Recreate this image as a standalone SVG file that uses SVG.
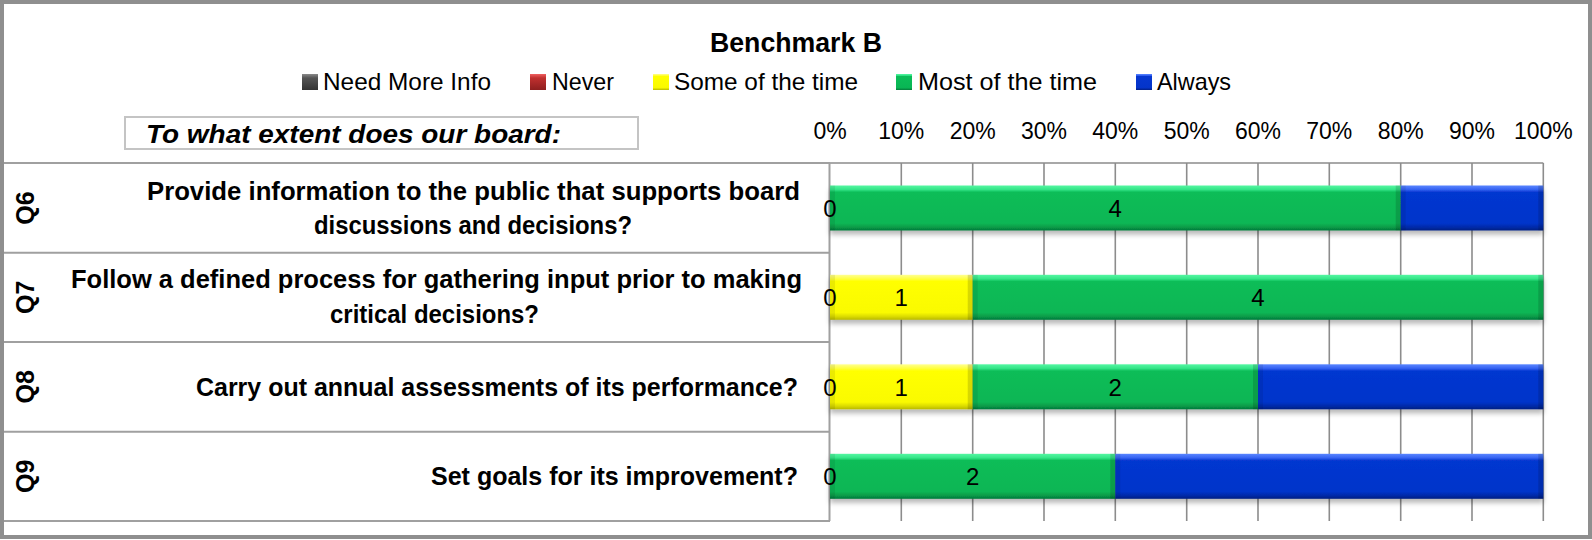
<svg xmlns="http://www.w3.org/2000/svg" width="1592" height="540" viewBox="0 0 1592 540">
<style>
.t{font-family:"Liberation Sans",Arial,sans-serif;fill:#000}
.b{font-weight:bold}
.title{font-size:27px;font-weight:bold}
.leg{font-size:24px}
.pct{font-size:23px;text-anchor:middle}
.q{font-size:25px;font-weight:bold}
.ql{font-size:25px;font-weight:bold;text-anchor:middle}
.val{font-size:24px;text-anchor:middle}
.tbl{stroke:#a0a0a0;stroke-width:2;fill:none}
.grid{stroke:#8c8c8c;stroke-width:1.6;fill:none}
.edgeL{fill:#000;opacity:0.08}
.edgeR{fill:#000;opacity:0.14}
</style>
<defs>
<linearGradient id="gGreen" x1="0" y1="0" x2="0" y2="1">
<stop offset="0" stop-color="#55F7A2"/><stop offset="0.09" stop-color="#34E588"/><stop offset="0.15" stop-color="#0BBD58"/><stop offset="0.84" stop-color="#09B654"/><stop offset="0.93" stop-color="#079A48"/><stop offset="1" stop-color="#05783A"/>
</linearGradient>
<linearGradient id="gYellow" x1="0" y1="0" x2="0" y2="1">
<stop offset="0" stop-color="#FFFF90"/><stop offset="0.09" stop-color="#FFFF40"/><stop offset="0.15" stop-color="#FFFF00"/><stop offset="0.84" stop-color="#FAFA00"/><stop offset="0.93" stop-color="#DADA00"/><stop offset="1" stop-color="#B8B800"/>
</linearGradient>
<linearGradient id="gBlue" x1="0" y1="0" x2="0" y2="1">
<stop offset="0" stop-color="#5A86FF"/><stop offset="0.09" stop-color="#3563F2"/><stop offset="0.15" stop-color="#0637D0"/><stop offset="0.84" stop-color="#0434CA"/><stop offset="0.93" stop-color="#032AA8"/><stop offset="1" stop-color="#021E82"/>
</linearGradient>
<linearGradient id="gGray" x1="0" y1="0" x2="0" y2="1">
<stop offset="0" stop-color="#8a8a8a"/><stop offset="0.25" stop-color="#555"/><stop offset="1" stop-color="#333"/>
</linearGradient>
<linearGradient id="gRed" x1="0" y1="0" x2="0" y2="1">
<stop offset="0" stop-color="#F06060"/><stop offset="0.25" stop-color="#C0302F"/><stop offset="1" stop-color="#8E1F1F"/>
</linearGradient>
<filter id="sh" x="-5%" y="-20%" width="110%" height="160%">
<feDropShadow dx="0" dy="4" stdDeviation="2.5" flood-color="#000" flood-opacity="0.28"/>
</filter>
</defs>

<rect x="0" y="0" width="1592" height="540" fill="#fff"/>
<rect x="2" y="2" width="1588" height="535" fill="none" stroke="#8f8f8f" stroke-width="4"/>

<g id="title">
<text class="t title" x="710" y="52" textLength="172" lengthAdjust="spacingAndGlyphs">Benchmark B</text>
</g>

<g id="legend">
<rect x="302" y="74" width="16" height="16" fill="url(#gGray)"/>
<text class="t leg" x="323" y="90" textLength="168" lengthAdjust="spacingAndGlyphs">Need More Info</text>
<rect x="530" y="74" width="16" height="16" fill="url(#gRed)"/>
<text class="t leg" x="552" y="90" textLength="62" lengthAdjust="spacingAndGlyphs">Never</text>
<rect x="653" y="74" width="16" height="16" fill="url(#gYellow)"/>
<text class="t leg" x="674" y="90" textLength="184" lengthAdjust="spacingAndGlyphs">Some of the time</text>
<rect x="896" y="74" width="16" height="16" fill="url(#gGreen)"/>
<text class="t leg" x="918" y="90" textLength="179" lengthAdjust="spacingAndGlyphs">Most of the time</text>
<rect x="1136" y="74" width="16" height="16" fill="url(#gBlue)"/>
<text class="t leg" x="1157" y="90" textLength="74" lengthAdjust="spacingAndGlyphs">Always</text>
</g>

<g id="header-box">
<rect x="125" y="117" width="513" height="32" fill="#fff" stroke="#c4c4c4" stroke-width="2"/>
<text class="t b" font-style="italic" font-size="26" x="146" y="142.5" textLength="415" lengthAdjust="spacingAndGlyphs">To what extent does our board:</text>
</g>

<g id="axis">
<text class="t pct" x="830" y="138.5">0%</text>
<text class="t pct" x="901.3" y="138.5">10%</text>
<text class="t pct" x="972.7" y="138.5">20%</text>
<text class="t pct" x="1044" y="138.5">30%</text>
<text class="t pct" x="1115.3" y="138.5">40%</text>
<text class="t pct" x="1186.7" y="138.5">50%</text>
<text class="t pct" x="1258" y="138.5">60%</text>
<text class="t pct" x="1329.3" y="138.5">70%</text>
<text class="t pct" x="1400.7" y="138.5">80%</text>
<text class="t pct" x="1472" y="138.5">90%</text>
<text class="t pct" x="1543.3" y="138.5">100%</text>
</g>

<g id="grid">
<path class="grid" d="M830 163H1543.3M901.3 163V521M972.7 163V521M1044 163V521M1115.3 163V521M1186.7 163V521M1258 163V521M1329.3 163V521M1400.7 163V521M1472 163V521M1543.3 163V521"/>
</g>

<g id="table">
<path class="tbl" d="M4 163H830M4 252.7H830M4 342H830M4 431.7H830M4 521H830M829.5 163V521"/>
</g>

<g id="connectors"></g>

<g id="q6">
<text class="t ql" transform="translate(34 208) rotate(-90)">Q6</text>
<text class="t q" x="147" y="199.5" textLength="653" lengthAdjust="spacingAndGlyphs">Provide information to the public that supports board</text>
<text class="t q" x="314" y="234" textLength="318" lengthAdjust="spacingAndGlyphs">discussions and decisions?</text>
<g filter="url(#sh)">
<rect x="830" y="185.5" width="570.7" height="45" fill="url(#gGreen)"/>
<rect x="1400.7" y="185.5" width="142.6" height="45" fill="url(#gBlue)"/>
</g>
<rect class="edgeL" x="830" y="185.5" width="5" height="45"/>
<rect class="edgeR" x="1395.7" y="185.5" width="5" height="45"/>
<rect class="edgeL" x="1400.7" y="185.5" width="5" height="45"/>
<rect class="edgeR" x="1538.3" y="185.5" width="5" height="45"/>
<text class="t val" x="830" y="217">0</text>
<text class="t val" x="1115.3" y="217">4</text>
</g>

<g id="q7">
<text class="t ql" transform="translate(34 297.3) rotate(-90)">Q7</text>
<text class="t q" x="71" y="288" textLength="731" lengthAdjust="spacingAndGlyphs">Follow a defined process for gathering input prior to making</text>
<text class="t q" x="330" y="323" textLength="209" lengthAdjust="spacingAndGlyphs">critical decisions?</text>
<g filter="url(#sh)">
<rect x="830" y="274.8" width="142.7" height="45" fill="url(#gYellow)"/>
<rect x="972.7" y="274.8" width="570.6" height="45" fill="url(#gGreen)"/>
</g>
<rect class="edgeL" x="830" y="274.8" width="5" height="45"/>
<rect class="edgeR" x="967.7" y="274.8" width="5" height="45"/>
<rect class="edgeL" x="972.7" y="274.8" width="5" height="45"/>
<rect class="edgeR" x="1538.3" y="274.8" width="5" height="45"/>
<text class="t val" x="830" y="306.3">0</text>
<text class="t val" x="901.3" y="306.3">1</text>
<text class="t val" x="1258" y="306.3">4</text>
</g>

<g id="q8">
<text class="t ql" transform="translate(34 386.8) rotate(-90)">Q8</text>
<text class="t q" x="196" y="395.5" textLength="602" lengthAdjust="spacingAndGlyphs">Carry out annual assessments of its performance?</text>
<g filter="url(#sh)">
<rect x="830" y="364.3" width="142.7" height="45" fill="url(#gYellow)"/>
<rect x="972.7" y="364.3" width="285.3" height="45" fill="url(#gGreen)"/>
<rect x="1258" y="364.3" width="285.3" height="45" fill="url(#gBlue)"/>
</g>
<rect class="edgeL" x="830" y="364.3" width="5" height="45"/>
<rect class="edgeR" x="967.7" y="364.3" width="5" height="45"/>
<rect class="edgeL" x="972.7" y="364.3" width="5" height="45"/>
<rect class="edgeR" x="1253" y="364.3" width="5" height="45"/>
<rect class="edgeL" x="1258" y="364.3" width="5" height="45"/>
<rect class="edgeR" x="1538.3" y="364.3" width="5" height="45"/>
<text class="t val" x="830" y="395.8">0</text>
<text class="t val" x="901.3" y="395.8">1</text>
<text class="t val" x="1115.3" y="395.8">2</text>
</g>

<g id="q9">
<text class="t ql" transform="translate(34 476.3) rotate(-90)">Q9</text>
<text class="t q" x="431" y="484.5" textLength="367" lengthAdjust="spacingAndGlyphs">Set goals for its improvement?</text>
<g filter="url(#sh)">
<rect x="830" y="453.8" width="285.3" height="45" fill="url(#gGreen)"/>
<rect x="1115.3" y="453.8" width="428" height="45" fill="url(#gBlue)"/>
</g>
<rect class="edgeL" x="830" y="453.8" width="5" height="45"/>
<rect class="edgeR" x="1110.3" y="453.8" width="5" height="45"/>
<rect class="edgeL" x="1115.3" y="453.8" width="5" height="45"/>
<rect class="edgeR" x="1538.3" y="453.8" width="5" height="45"/>
<text class="t val" x="830" y="485.3">0</text>
<text class="t val" x="972.7" y="485.3">2</text>
</g>
</svg>
